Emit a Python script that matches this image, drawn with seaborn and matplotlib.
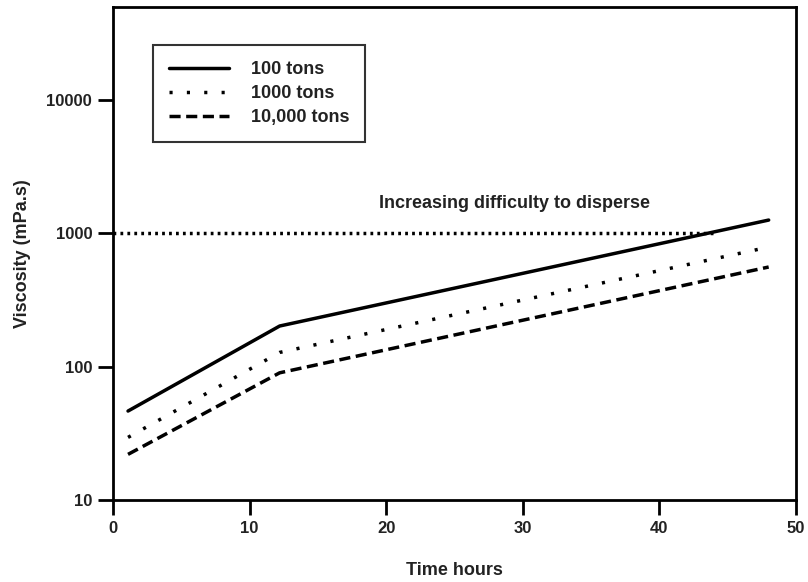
#!/usr/bin/env python3
"""
Viscosity of spilled oil over time for three spill sizes (log scale).
"""

import matplotlib
matplotlib.use("Agg")
import matplotlib.pyplot as plt
import pandas as pd
import seaborn as sns

# data
hours = [1.1, 12.2, 48.0]
visc_100 = [46.5, 202, 1260]
visc_1000 = [29.5, 128, 790]
visc_10000 = [22, 90, 560]
series_names = ["100 tons", "1000 tons", "10,000 tons"]
threshold = 1000
threshold_end = 44.0
x_ticks = [0, 10, 20, 30, 40, 50]
y_ticks = [10, 100, 1000, 10000]

sns.set_theme(style="white")
plt.rcParams["font.family"] = ["Liberation Sans", "DejaVu Sans"]
plt.rcParams["font.weight"] = "bold"

rows = []
for name, vals in zip(series_names, [visc_100, visc_1000, visc_10000]):
    for h, v in zip(hours, vals):
        rows.append({"hours": h, "viscosity": v, "spill": name})
df = pd.DataFrame(rows)

fig = plt.figure(figsize=(8.08, 5.82), dpi=100)
ax = fig.add_axes([113 / 808, 1 - 500 / 582, (796 - 113) / 808, (500 - 7) / 582])

sns.lineplot(
    data=df, x="hours", y="viscosity", style="spill", ax=ax,
    color="black", linewidth=2.5,
    dashes={"100 tons": "", "1000 tons": (0.9, 4.1), "10,000 tons": (3.2, 1.6)},
    style_order=series_names,
)
ax.plot([0, threshold_end], [threshold, threshold], color="black",
        linewidth=2.5, linestyle=(0, (0.8, 1.2)))

ax.set_yscale("log")
ax.set_xlim(0, 50)
ax.set_ylim(10, 50000)
ax.set_xticks(x_ticks)
ax.set_yticks(y_ticks)
ax.set_yticklabels([str(t) for t in y_ticks])
ax.minorticks_off()
ax.tick_params(axis="both", direction="out", length=11, width=2, colors="black",
               labelsize=12, pad=4, bottom=True, left=True)
for lab in ax.get_xticklabels() + ax.get_yticklabels():
    lab.set_fontweight("bold")
    lab.set_color("#222222")
for sp in ax.spines.values():
    sp.set_color("black")
    sp.set_linewidth(2)

ax.text(29.4, 1450, "Increasing difficulty to disperse", ha="center", va="bottom",
        fontsize=13, fontweight="bold", color="#222222")

ax.set_xlabel("Time hours", fontsize=13, fontweight="bold", labelpad=19, color="#222222")
ax.set_ylabel("Viscosity (mPa.s)", fontsize=13, fontweight="bold", labelpad=11, color="#222222")

leg = ax.legend(loc="upper left", bbox_to_anchor=(0.0586, 0.923), frameon=True,
                fancybox=False, edgecolor="black", fontsize=13,
                handlelength=3.3, handletextpad=1.2, borderpad=0.9,
                labelspacing=0.38, borderaxespad=0, title=None)
leg.get_frame().set_linewidth(1.5)
for t in leg.get_texts():
    t.set_fontweight("bold")
    t.set_color("#222222")

fig.savefig("out.png", dpi=100)
